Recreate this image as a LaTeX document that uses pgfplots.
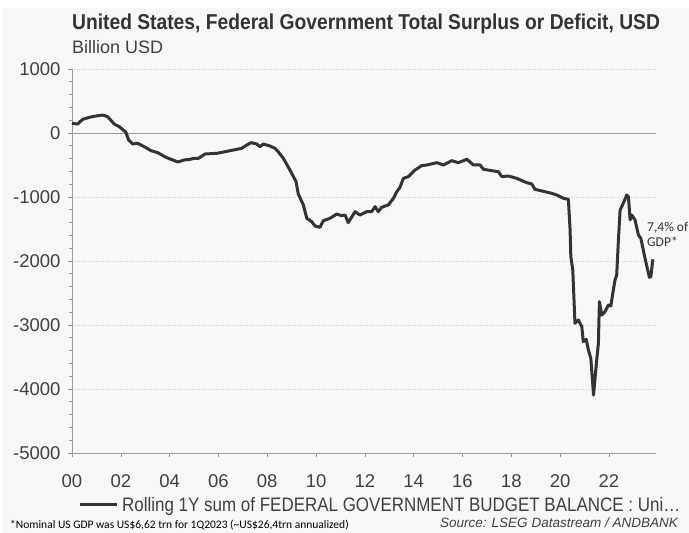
\documentclass[border=0pt]{standalone}
\usepackage{pgfplots}
\pgfplotsset{compat=1.18}
\usepackage{fontspec}
\setmainfont{Liberation Sans}
\newfontfamily\narrowfont[FakeStretch=0.87]{Liberation Sans}
\newfontfamily\narrowbold[FakeStretch=0.895]{Liberation Sans Bold}
\newfontfamily\calib{Carlito}
\definecolor{bg}{HTML}{F7F7F7}
\definecolor{txt}{HTML}{404040}
\definecolor{ln}{HTML}{333333}
\definecolor{gridc}{HTML}{CFCFCF}
\definecolor{axc}{HTML}{9A9A9A}
\begin{document}
\begin{tikzpicture}[x=1pt,y=1pt]
\path[use as bounding box] (0,0) rectangle (689,533);
\fill[white] (0,0) rectangle (689,533);
\fill[bg] (3,0) rectangle (689,525);
\node[anchor=base west,inner sep=0,text=ln,font=\narrowbold\fontsize{21.5}{21.5}\selectfont] at (72,503) {United States, Federal Government Total Surplus or Deficit, USD};
\node[anchor=base west,inner sep=0,text=txt,font=\fontsize{18}{18}\selectfont] at (72,479) {Billion USD};
\begin{axis}[
  at={(72pt,80pt)}, anchor=south west,
  scale only axis, width=584pt, height=384pt,
  xmin=2000, xmax=2023.93, ymin=-5000, ymax=1000,
  axis x line*=bottom, axis y line*=left,
  axis line style={axc},
  xtick={2000,2002,...,2022},
  xticklabels={00,02,04,06,08,10,12,14,16,18,20,22},
  minor x tick num=11,
  ytick={-5000,-4000,...,1000},
  minor y tick num=4,
  tick align=outside,
  major tick length=4pt, minor tick length=3pt,
  tick style={axc, line width=0.6pt},
  ymajorgrids, grid style={gridc, dotted, line width=0.6pt},
  ticklabel style={text=txt, font=\fontsize{18.5}{18.5}\selectfont},
  /pgf/number format/assume math mode=true,
  yticklabel style={xshift=-4pt},
  xticklabel style={yshift=-14pt},
  scaled ticks=false,
  y tick label style={/pgf/number format/.cd, set thousands separator={}, fixed},
  clip=false,
]
\addplot[axc, line width=0.8pt, forget plot] coordinates {(2000,0) (2023.93,0)};
\addplot[ln, line width=3pt, line join=round] coordinates {
(2000.00,152) (2000.23,140) (2000.44,214) (2000.71,245) (2000.98,265) (2001.26,281) (2001.46,255) (2001.73,140) (2001.94,99) (2002.21,10) (2002.32,-109) (2002.49,-172) (2002.69,-161) (2002.96,-214) (2003.24,-276) (2003.51,-307) (2003.85,-380) (2004.13,-422) (2004.33,-453) (2004.60,-422) (2004.84,-411) (2005.01,-396) (2005.18,-396) (2005.45,-328) (2005.93,-318) (2006.27,-292) (2006.61,-266) (2006.95,-240) (2007.16,-188) (2007.34,-151) (2007.57,-172) (2007.70,-213) (2007.84,-172) (2008.11,-203) (2008.32,-240) (2008.45,-292) (2008.66,-396) (2008.93,-578) (2009.18,-760) (2009.27,-950) (2009.48,-1125) (2009.62,-1333) (2009.82,-1385) (2009.96,-1453) (2010.16,-1474) (2010.30,-1370) (2010.57,-1333) (2010.85,-1266) (2011.05,-1292) (2011.19,-1281) (2011.32,-1401) (2011.60,-1229) (2011.80,-1281) (2012.08,-1229) (2012.28,-1229) (2012.42,-1151) (2012.55,-1229) (2012.69,-1161) (2012.83,-1141) (2012.96,-1125) (2013.17,-1021) (2013.31,-917) (2013.44,-849) (2013.58,-708) (2013.78,-682) (2014.06,-578) (2014.33,-510) (2014.54,-500) (2014.95,-464) (2015.22,-500) (2015.56,-432) (2015.83,-464) (2016.18,-411) (2016.45,-500) (2016.72,-500) (2016.86,-567) (2017.20,-589) (2017.47,-604) (2017.61,-682) (2017.88,-672) (2018.22,-708) (2018.63,-776) (2018.84,-797) (2018.97,-880) (2019.38,-917) (2019.66,-943) (2019.86,-969) (2020.14,-1021) (2020.34,-1036) (2020.41,-1516) (2020.44,-1932) (2020.52,-2141) (2020.61,-2974) (2020.75,-2922) (2020.89,-3026) (2020.95,-3260) (2021.07,-3224) (2021.16,-3391) (2021.26,-3521) (2021.37,-4094) (2021.50,-3547) (2021.57,-3286) (2021.61,-2635) (2021.71,-2844) (2021.84,-2792) (2021.98,-2688) (2022.08,-2703) (2022.16,-2505) (2022.25,-2297) (2022.32,-2219) (2022.39,-1672) (2022.46,-1203) (2022.60,-1089) (2022.73,-969) (2022.80,-995) (2022.87,-1359) (2022.94,-1281) (2023.07,-1359) (2023.21,-1594) (2023.31,-1646) (2023.48,-1958) (2023.66,-2255) (2023.72,-2245) (2023.80,-1974)
};
\end{axis}
\draw[ln, line width=3pt] (80,28) -- (117,28);
\node[anchor=base west,inner sep=0,text=txt,font=\narrowfont\fontsize{19.5}{19.5}\selectfont] at (122,21) {Rolling 1Y sum of FEDERAL GOVERNMENT BUDGET BALANCE : Uni…};
\node[anchor=base west,inner sep=0,text=black,font=\calib\fontsize{11.5}{11.5}\selectfont] at (10,4) {*Nominal US GDP was US\$6,62 trn for 1Q2023 (\textasciitilde US\$26,4trn annualized)};
\node[anchor=base east,inner sep=0,text=txt,font=\itshape\fontsize{13.5}{13.5}\selectfont] at (678,5) {Source: LSEG Datastream / ANDBANK};
\node[anchor=base west,inner sep=0,text=ln,font=\calib\fontsize{13.5}{13.5}\selectfont] at (647,301) {7,4\% of};
\node[anchor=base west,inner sep=0,text=ln,font=\calib\fontsize{13.5}{13.5}\selectfont] at (647,286) {GDP*};
\end{tikzpicture}
\end{document}
